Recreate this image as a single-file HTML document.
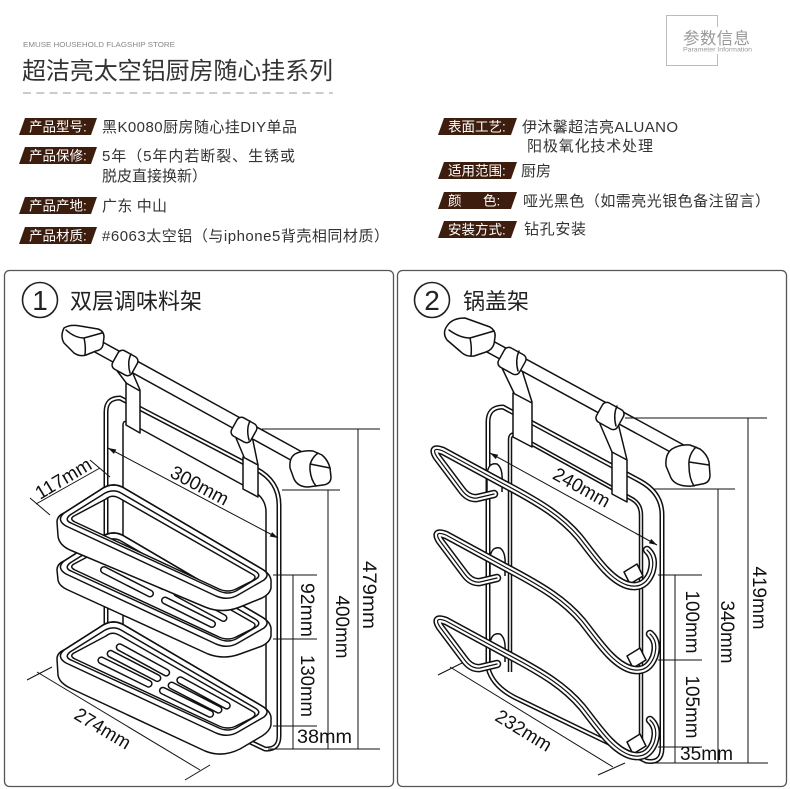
<!DOCTYPE html>
<html><head><meta charset="utf-8">
<style>
html,body{margin:0;padding:0;background:#fff;}
svg{display:block;}
text{font-family:"Liberation Sans","Noto Sans CJK SC",sans-serif;}
.ln{fill:none;stroke:#111;stroke-width:1.5;stroke-linejoin:round;stroke-linecap:round}
.wf{fill:#fff;stroke:#111;stroke-width:1.5;stroke-linejoin:round}
.dbk{fill:none;stroke:#111;stroke-width:5;stroke-linejoin:round}
.dbw{fill:none;stroke:#fff;stroke-width:2;stroke-linejoin:round}
.dim{fill:none;stroke:#111;stroke-width:1}
.dt{font-size:19px;fill:#111}
.slb{fill:none;stroke:#111;stroke-width:8;stroke-linecap:round}
.slw{fill:none;stroke:#fff;stroke-width:5;stroke-linecap:round}
.wb{fill:none;stroke:#111;stroke-width:8.5;stroke-linejoin:round;stroke-linecap:round}
.ww{fill:none;stroke:#fff;stroke-width:5.5;stroke-linejoin:round;stroke-linecap:round}
.wc{fill:none;stroke:#111;stroke-width:1.2;stroke-linejoin:round;stroke-linecap:round}
.lab{font-size:13.5px;fill:#fff}
.val{font-size:15px;fill:#333}
</style></head><body>
<svg width="790" height="789" viewBox="0 0 790 789" xmlns="http://www.w3.org/2000/svg">
<defs>
<g id="hook">
 <path class="wf" d="M490,578 L490,557 Q492,546 500,548 Q506,552 505,566 L505,576"/>
 <polygon class="wf" points="627,656 640,648 646,660 633,668"/>
 <path class="wb" d="M497,578 L480,582 Q471,583 464,573 L440,541 Q433,530 446,535 L505,567 C545,588 565,601 582,621 C598,641 612,663 630,669 Q647,674 654,657 Q659,642 650,634"/>
 <path class="ww" d="M497,578 L480,582 Q471,583 464,573 L440,541 Q433,530 446,535 L505,567 C545,588 565,601 582,621 C598,641 612,663 630,669 Q647,674 654,657 Q659,642 650,634"/>
 <path class="wc" d="M497,578 L480,582 Q471,583 464,573 L440,541 Q433,530 446,535 L505,567 C545,588 565,601 582,621 C598,641 612,663 630,669 Q647,674 654,657 Q659,642 650,634"/>
</g>
</defs>

<!-- Header -->
<text x="23" y="47" font-size="7.5" fill="#888" textLength="152" lengthAdjust="spacingAndGlyphs">EMUSE HOUSEHOLD FLAGSHIP STORE</text>
<text x="22" y="79" font-size="24" fill="#333" textLength="311">超洁亮太空铝厨房随心挂系列</text>
<line x1="23" y1="93" x2="333" y2="93" stroke="#999" stroke-width="1" stroke-dasharray="8,5.3"/>
<rect x="666.5" y="15.5" width="51" height="50" fill="none" stroke="#bbb" stroke-width="1"/>
<rect x="681" y="27" width="74" height="27" fill="#fff"/>
<text x="683" y="44" font-size="16.5" fill="#999" textLength="67">参数信息</text>
<text x="683" y="51.5" font-size="6.3" fill="#999" textLength="69" lengthAdjust="spacingAndGlyphs">Parameter Information</text>

<!-- Spec labels -->
<g fill="#3c1d0e">
<polygon points="25,118 97,118 91,135 19,135"/>
<polygon points="25,147 97,147 91,164 19,164"/>
<polygon points="25,197 97,197 91,214 19,214"/>
<polygon points="25,227 97,227 91,244 19,244"/>
<polygon points="444,118 517,118 511,135 438,135"/>
<polygon points="444,162 517,162 511,179 438,179"/>
<polygon points="444,192 517,192 511,209 438,209"/>
<polygon points="444,221 517,221 511,238 438,238"/>
</g>
<text class="lab" x="29" y="131.5">产品型号:</text>
<text class="lab" x="29" y="160.5">产品保修:</text>
<text class="lab" x="29" y="210.5">产品产地:</text>
<text class="lab" x="29" y="240.5">产品材质:</text>
<text class="lab" x="448" y="131.5">表面工艺:</text>
<text class="lab" x="448" y="175.5">适用范围:</text>
<text class="lab" x="448" y="205.5">颜</text>
<text class="lab" x="483" y="205.5">色:</text>
<text class="lab" x="448" y="234.5">安装方式:</text>

<text class="val" x="102" y="132" textLength="195">黑K0080厨房随心挂DIY单品</text>
<text class="val" x="102" y="161" textLength="193">5年（5年内若断裂、生锈或</text>
<text class="val" x="102" y="181">脱皮直接换新）</text>
<text class="val" x="102" y="211" textLength="65">广东 中山</text>
<text class="val" x="102" y="241" textLength="287">#6063太空铝（与iphone5背壳相同材质）</text>
<text class="val" x="522" y="132" textLength="156">伊沐馨超洁亮ALUANO</text>
<text class="val" x="527" y="151" textLength="126">阳极氧化技术处理</text>
<text class="val" x="521" y="176">厨房</text>
<text class="val" x="523" y="206" textLength="247">哑光黑色（如需亮光银色备注留言）</text>
<text class="val" x="524" y="234" textLength="62">钻孔安装</text>

<!-- Panels -->
<rect x="4.5" y="270.5" width="389" height="516" rx="5" fill="none" stroke="#555" stroke-width="1.3"/>
<rect x="397.5" y="270.5" width="389" height="516" rx="5" fill="none" stroke="#555" stroke-width="1.3"/>
<circle cx="40" cy="300" r="17.5" fill="none" stroke="#222" stroke-width="1.6"/>
<text x="40" y="310" font-size="28" fill="#222" text-anchor="middle">1</text>
<text x="70" y="309" font-size="22" fill="#222">双层调味料架</text>
<circle cx="432" cy="300" r="17.5" fill="none" stroke="#222" stroke-width="1.6"/>
<text x="432" y="310" font-size="28" fill="#222" text-anchor="middle">2</text>
<text x="463" y="309" font-size="22" fill="#222">锅盖架</text>

<!-- ============ PANEL 1 DRAWING ============ -->
<path class="dbk" d="M106,665 L106,412 Q106,398 120,398 L256,469 Q279,481 279,505 L279,736 Q279,750 265,749 L248,741"/>
<path class="dbw" d="M106,665 L106,412 Q106,398 120,398 L256,469 Q279,481 279,505 L279,736 Q279,750 265,749 L248,741"/>
<path class="ln" d="M123,665 L123,425 Q123,420 128,422 L252,490 Q266,498 266,512 L266,730"/>

<path class="ln" d="M115,368 L127,384 M131,369 L140,390"/>
<polygon class="wf" points="126,383 140,391 140,433 126,425"/>
<path class="ln" d="M236,438 L244,457 M252,436 L258,465"/>
<polygon class="wf" points="243,457 258,465 258,497 243,489"/>

<line x1="86" y1="340" x2="300" y2="458" stroke="#111" stroke-width="14"/>
<line x1="86" y1="340" x2="300" y2="458" stroke="#fff" stroke-width="11"/>
<rect class="wf" x="-11" y="-10.5" width="22" height="21" rx="5" transform="translate(125,363) rotate(29)"/>
<path class="ln" d="M131,354 Q127,362 130,373" />
<rect class="wf" x="-11" y="-10.5" width="22" height="21" rx="5" transform="translate(244,430) rotate(29)"/>
<path class="ln" d="M250,421 Q246,429 249,440" />
<path class="wf" d="M64,328 Q70,324 80,326 L98,329 Q104,331 104,337 L103,345 Q102,350 96,351 L86,355 Q80,357 74,353 L64,343 Q60,336 64,328 Z"/>
<path class="ln" d="M66,330 Q75,338 84,338 Q86,346 85,355 M84,338 L102,333"/>
<path class="wf" d="M295,454 Q303,450 313,451 L322,455 Q328,460 330,468 L331,477 Q331,484 323,485 L308,487 Q298,487 294,479 L290,468 Q289,458 295,454 Z"/>
<path class="ln" d="M318,453 Q309,460 310,470 Q311,480 316,486 M310,464 L330,468"/>

<!-- bottom tray -->
<path class="wf" d="M64,650 L100,627 Q112,618 124,625 L262,706 Q272,712 271,720 L271,725 Q270,731 262,736 L240,749 Q222,758 205,751 L72,689 Q59,683 58,675 L57,659 Q57,653 64,650 Z"/>
<g transform="translate(0,137)">
<path class="ln" d="M100,490 Q112,481 124,488 L262,569 Q271,574 264,580 L238,595 Q228,601 216,596 L66,526 Q56,520 64,513 Z"/>
<path class="ln" d="M102,495 Q112,488 121,493 L255,571 Q262,575 256,579 L236,591 Q228,595 219,591 L71,523 Q64,520 70,515 Z"/>
<path class="wf" d="M106,499 Q112,494 119,498 L252,574 Q258,577 252,581 L236,589 Q228,593 219,589 L75,522 Q69,519 74,516 Z"/>
</g>
<path class="slb" d="M119.7,647.2 L166.2,672.6 M180.3,680.2 L226.8,705.6 M110.6,653.8 L157.4,678.1 M171.6,685.5 L218.5,709.7 M101.4,660.4 L148.6,683.7 M162.9,690.7 L210.1,713.9"/>
<path class="slw" d="M119.7,647.2 L166.2,672.6 M180.3,680.2 L226.8,705.6 M110.6,653.8 L157.4,678.1 M171.6,685.5 L218.5,709.7 M101.4,660.4 L148.6,683.7 M162.9,690.7 L210.1,713.9"/>

<!-- middle tray -->
<path class="wf" d="M64,561 L100,538 Q112,529 124,536 L262,617 Q272,623 271,631 L271,636 Q270,642 262,646 L240,654 Q224,660 208,654 L68,590 Q59,586 58,580 L57,570 Q57,564 64,561 Z"/>
<g transform="translate(0,48)">
<path class="ln" d="M100,490 Q112,481 124,488 L262,569 Q271,574 264,580 L238,595 Q228,601 216,596 L66,526 Q56,520 64,513 Z"/>
<path class="ln" d="M102,495 Q112,488 121,493 L255,571 Q262,575 256,579 L236,591 Q228,595 219,591 L71,523 Q64,520 70,515 Z"/>
<path class="wf" d="M106,499 Q112,494 119,498 L252,574 Q258,577 252,581 L236,589 Q228,593 219,589 L75,522 Q69,519 74,516 Z"/>
</g>
<path class="slb" d="M104,570 L150,593.5 M165,600.5 L212,624 M116,561 L163,586 M177,593 L223.5,618"/>
<path class="slw" d="M104,570 L150,593.5 M165,600.5 L212,624 M116,561 L163,586 M177,593 L223.5,618"/>

<!-- top frame -->
<path class="wf" fill-rule="evenodd" d="M64,513 L100,490 Q112,481 124,488 L262,569 Q272,575 271,583 L271,588 Q270,594 262,598 L240,607 Q222,614 205,607 L70,550 Q59,545 58,536 L57,522 Q57,516 64,513 Z M106,499 Q112,494 119,498 L252,574 Q258,577 252,581 L236,589 Q228,593 219,589 L75,522 Q69,519 74,516 Z"/>
<path class="ln" d="M100,490 Q112,481 124,488 L262,569 Q271,574 264,580 L238,595 Q228,601 216,596 L66,526 Q56,520 64,513 Z"/>
<path class="ln" d="M102,495 Q112,488 121,493 L255,571 Q262,575 256,579 L236,591 Q228,595 219,591 L71,523 Q64,520 70,515 Z"/>

<!-- panel 1 dims -->
<g class="dim">
<line x1="262" y1="429" x2="380" y2="429"/>
<line x1="282" y1="490" x2="340" y2="490"/>
<line x1="273" y1="575" x2="317" y2="575"/>
<line x1="273" y1="639" x2="317" y2="639"/>
<line x1="273" y1="726" x2="317" y2="726"/>
<line x1="268" y1="749" x2="380" y2="749"/>
<line x1="358" y1="429" x2="358" y2="749"/>
<line x1="328" y1="490" x2="328" y2="749"/>
<line x1="293" y1="575" x2="293" y2="749"/>
<line x1="108" y1="448" x2="278" y2="538"/>
<line x1="36" y1="504" x2="100" y2="468"/>
<line x1="30" y1="498" x2="50" y2="515"/>
<line x1="90" y1="460" x2="110" y2="477"/>
<line x1="37" y1="672" x2="200" y2="770"/>
<line x1="27" y1="680" x2="52" y2="667"/>
<line x1="185" y1="780" x2="210" y2="765"/>
</g>
<polygon points="108,448 113.9,453.9 116.3,449.5" fill="#111"/>
<polygon points="278,538 269.7,536.5 272.1,532.1" fill="#111"/>
<text class="dt" text-anchor="middle" transform="translate(370,595) rotate(90)" y="7" textLength="68" lengthAdjust="spacingAndGlyphs">479mm</text>
<text class="dt" text-anchor="middle" transform="translate(343,627) rotate(90)" y="7" textLength="63" lengthAdjust="spacingAndGlyphs">400mm</text>
<text class="dt" text-anchor="middle" transform="translate(308,610) rotate(90)" y="7" textLength="54" lengthAdjust="spacingAndGlyphs">92mm</text>
<text class="dt" text-anchor="middle" transform="translate(308,686) rotate(90)" y="7" textLength="62" lengthAdjust="spacingAndGlyphs">130mm</text>
<text class="dt" x="297" y="743" textLength="55" lengthAdjust="spacingAndGlyphs">38mm</text>
<text class="dt" text-anchor="middle" transform="translate(200,485) rotate(28)" y="7" textLength="63" lengthAdjust="spacingAndGlyphs">300mm</text>
<text class="dt" text-anchor="middle" transform="translate(63,478) rotate(-31)" y="7" textLength="62" lengthAdjust="spacingAndGlyphs">117mm</text>
<text class="dt" text-anchor="middle" transform="translate(103,728) rotate(31)" y="7" textLength="62" lengthAdjust="spacingAndGlyphs">274mm</text>

<!-- ============ PANEL 2 DRAWING ============ -->
<path class="dbk" d="M488,668 L488,422 Q488,407 503,407 L640,481 Q662,493 662,515 L662,748 Q662,764 646,761 L520,700 Q493,688 488,668"/>
<path class="dbw" d="M488,668 L488,422 Q488,407 503,407 L640,481 Q662,493 662,515 L662,748 Q662,764 646,761 L520,700 Q493,688 488,668"/>
<path fill="none" stroke="#111" stroke-width="4.5" d="M510,672 L510,440 Q510,433 516,435 L632,499 Q641,504 641,515 L641,742"/>
<path fill="none" stroke="#fff" stroke-width="1.5" d="M510,672 L510,440 Q510,433 516,435 L632,499 Q641,504 641,515 L641,742"/>

<path class="ln" d="M502,368 L514,393 M521,367 L532,402"/>
<polygon class="wf" points="513,393 532,403 532,447 513,437"/>
<path class="ln" d="M600,424 L612,452 M618,423 L627,460"/>
<polygon class="wf" points="612,452 627,460 627,502 612,494"/>

<line x1="478" y1="340" x2="700" y2="461" stroke="#111" stroke-width="14"/>
<line x1="478" y1="340" x2="700" y2="461" stroke="#fff" stroke-width="11"/>
<rect class="wf" x="-12" y="-11" width="24" height="22" rx="5" transform="translate(512,361) rotate(29)"/>
<path class="ln" d="M519,351 Q515,360 518,371"/>
<rect class="wf" x="-12" y="-11" width="24" height="22" rx="5" transform="translate(610,416) rotate(29)"/>
<path class="ln" d="M617,406 Q613,415 616,426"/>
<path class="wf" d="M447,326 Q452,318 465,318 L490,327 Q496,331 495,337 L494,344 Q492,350 486,352 L474,356 Q466,357 461,352 L447,340 Q442,333 447,326 Z"/>
<path class="ln" d="M449,330 Q460,338 470,338 Q472,347 471,356 M470,338 L494,331"/>
<path class="wf" d="M672,449 Q680,444 690,445 L700,449 Q707,454 709,462 L710,475 Q710,483 702,484 L692,486 Q676,487 671,478 L666,466 Q665,454 672,449 Z"/>
<path class="ln" d="M696,447 Q688,455 689,466 Q689,478 694,486 M689,462 L709,465"/>

<use href="#hook" transform="translate(0,86)"/>
<use href="#hook"/>
<use href="#hook" transform="translate(-3,-84)"/>

<!-- panel 2 dims -->
<g class="dim">
<line x1="625" y1="418" x2="767" y2="418"/>
<line x1="653" y1="489" x2="735" y2="489"/>
<line x1="658" y1="575" x2="702" y2="575"/>
<line x1="658" y1="660" x2="702" y2="660"/>
<line x1="658" y1="747" x2="702" y2="747"/>
<line x1="645" y1="763" x2="768" y2="763"/>
<line x1="748" y1="418" x2="748" y2="763"/>
<line x1="718" y1="489" x2="718" y2="763"/>
<line x1="675" y1="575" x2="675" y2="763"/>
<line x1="490" y1="453" x2="657" y2="545"/>
<line x1="450" y1="667" x2="613" y2="767"/>
<line x1="438" y1="675" x2="462" y2="663"/>
<line x1="598" y1="775" x2="625" y2="763"/>
</g>
<polygon points="490,453 495.8,459.1 498.2,454.7" fill="#111"/>
<polygon points="657,545 648.8,543.3 651.2,538.9" fill="#111"/>
<text class="dt" text-anchor="middle" transform="translate(760,598) rotate(90)" y="7" textLength="63" lengthAdjust="spacingAndGlyphs">419mm</text>
<text class="dt" text-anchor="middle" transform="translate(728,632) rotate(90)" y="7" textLength="63" lengthAdjust="spacingAndGlyphs">340mm</text>
<text class="dt" text-anchor="middle" transform="translate(693,622) rotate(90)" y="7" textLength="63" lengthAdjust="spacingAndGlyphs">100mm</text>
<text class="dt" text-anchor="middle" transform="translate(693,707) rotate(90)" y="7" textLength="63" lengthAdjust="spacingAndGlyphs">105mm</text>
<text class="dt" x="680" y="760" textLength="53" lengthAdjust="spacingAndGlyphs">35mm</text>
<text class="dt" text-anchor="middle" transform="translate(582,487) rotate(29)" y="7" textLength="62" lengthAdjust="spacingAndGlyphs">240mm</text>
<text class="dt" text-anchor="middle" transform="translate(524,730) rotate(31.5)" y="7" textLength="62" lengthAdjust="spacingAndGlyphs">232mm</text>
</svg>
</body></html>
